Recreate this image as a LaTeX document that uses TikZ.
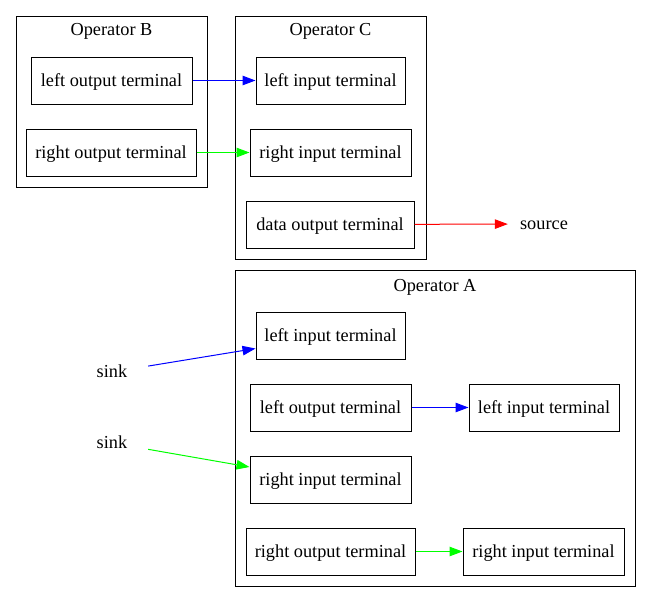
\documentclass[tikz,border=0pt]{standalone}
\usepackage{fontspec}
\setmainfont{Liberation Serif}
\usetikzlibrary{arrows.meta}
\begin{document}
\begin{tikzpicture}[x=1pt,y=-1pt,
  every node/.style={font=\fontsize{18.3}{20}\selectfont, text height=13pt, text depth=2pt},
  term/.style={draw, line width=1pt, minimum height=47pt, inner sep=0pt},
  cluster/.style={draw, line width=1pt},
  clabel/.style={inner sep=0pt},
  free/.style={circle, minimum size=73pt, inner sep=0pt},
  edge/.style={line width=1pt, -{Triangle[length=13pt,width=9.5pt]}}]
\useasboundingbox (0,0) rectangle (651,603);
% clusters
\draw[cluster] (16,16) rectangle (207,187);
\node[clabel] (labB) at (111.5,29.5) {Operator B};
\draw[cluster] (235,16) rectangle (426,259);
\node[clabel] (labC) at (330.5,29.5) {Operator C};
\draw[cluster] (235,270) rectangle (635,586);
\node[clabel] (labA) at (435,285.5) {Operator A};
% Operator B
\node[term, minimum width=161pt] (Blo) at (111.5,80.5) {left output terminal};
\node[term, minimum width=170pt] (Bro) at (111,152.5) {right output terminal};
% Operator C
\node[term, minimum width=149pt] (Cli) at (330.5,80.5) {left input terminal};
\node[term, minimum width=161pt] (Cri) at (330.5,152.5) {right input terminal};
\node[term, minimum width=168pt] (Cdo) at (330,224.5) {data output terminal};
\node[inner sep=0pt, minimum width=72pt, minimum height=36pt] (src) at (544,224) {source};
% Operator A
\node[term, minimum width=149pt] (Ali) at (330.5,335.5) {left input terminal};
\node[term, minimum width=161pt] (Alo) at (330.5,407.5) {left output terminal};
\node[term, minimum width=150pt] (Ali2) at (544,407.5) {left input terminal};
\node[term, minimum width=161pt] (Ari) at (330.5,479.5) {right input terminal};
\node[term, minimum width=169pt] (Aro) at (330.5,551.5) {right output terminal};
\node[term, minimum width=161pt] (Ari2) at (543.5,551.5) {right input terminal};
% sinks
\node[free] (s1) at (112,372) {sink};
\node[free] (s2) at (112,443) {sink};
% edges
\draw[edge, blue] (Blo) -- (Cli);
\draw[edge, green] (Bro) -- (Cri);
\draw[edge, red] (Cdo) -- (src);
\draw[edge, blue] (Alo) -- (Ali2);
\draw[edge, green] (Aro) -- (Ari2);
\draw[edge, blue] (s1) -- (Ali.west|-0,348.5);
\draw[edge, green] (s2) -- (Ari.west|-0,467);
\end{tikzpicture}
\end{document}
